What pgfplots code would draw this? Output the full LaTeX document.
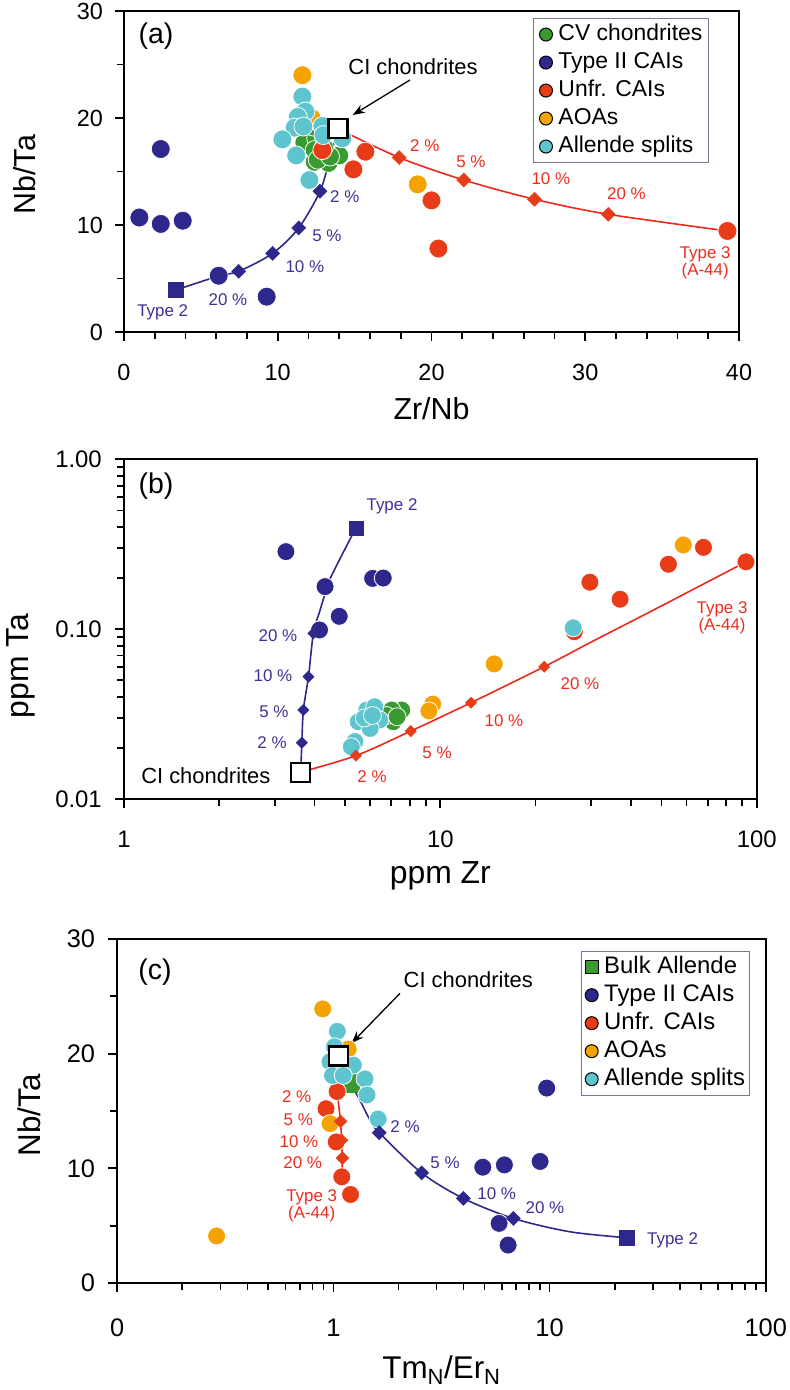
\documentclass[border=0pt]{standalone}
\usepackage{fontspec}
\setmainfont{Liberation Sans}
\usepackage{pgfplots}
\pgfplotsset{compat=1.18}
\usetikzlibrary{arrows.meta}
\definecolor{cvgreen}{RGB}{58,154,50}
\definecolor{caiblue}{RGB}{46,40,140}
\definecolor{unfred}{RGB}{232,60,24}
\definecolor{aoaorange}{RGB}{245,163,0}
\definecolor{splitcyan}{RGB}{94,196,206}
\definecolor{linered}{RGB}{238,40,28}
\definecolor{labred}{RGB}{235,45,30}
\definecolor{labblue}{RGB}{60,50,150}
\definecolor{leggray}{RGB}{120,120,150}
\tikzset{pct/.style={font=\fontsize{17}{17}\selectfont},
  xtl/.style={anchor=center, inner sep=0pt, yshift=-#1},
  ytl/.style={anchor=east, inner sep=0pt, xshift=-#1}}
\pgfplotsset{
  circ/.style={only marks, mark=*, mark options={draw=white, line width=0.8bp, fill=#1}},
  common/.style={scale only axis, clip=false,
    axis line style={line width=2bp},
    every tick/.style={line width=1.8bp, black},
    major tick length=9bp, minor tick length=7bp,
    tick align=outside, tick pos=left,
    xticklabels={,,,,,}, yticklabels={,,,,,},
    label style={inner sep=0pt},
    legend cell align=left,
    legend style={draw=leggray, line width=1bp, anchor=north west,
      nodes={inner sep=0pt, text height=18bp, text depth=6bp},
      row sep=4bp, column sep=6bp, inner ysep=4bp},
  },
  legcirc/.style={only marks, mark=*, mark size=6.5bp, mark options={draw=none, fill=#1}},
}
\begin{document}
\begin{tikzpicture}
\useasboundingbox (0,0) rectangle (790bp,1390bp);
% ---------------- (a) ----------------
\begin{axis}[common, at={(124bp,1058bp)}, anchor=south west,
  width=615bp, height=321bp,
  xmin=0, xmax=40, ymin=0, ymax=30,
  xtick={0,10,20,30,40}, ytick={0,10,20,30},
  minor x tick num=4, minor y tick num=1,
  label style={font=\fontsize{30.5}{30.5}\selectfont},
  xlabel={Zr/Nb}, ylabel={Nb/Ta},
  xlabel style={at={(axis description cs:0.5,-0.274)}, anchor=base},
  ylabel style={at={(axis description cs:-0.1447,0.49)}, anchor=base},
  legend style={at={(axis description cs:0.665,0.978)}, inner xsep=6bp,
    font=\fontsize{23}{28}\selectfont},
]
\addlegendimage{legcirc=cvgreen}\addlegendentry{CV chondrites}
\addlegendimage{legcirc=caiblue}\addlegendentry{Type II CAIs}
\addlegendimage{legcirc=unfred}\addlegendentry{Unfr. CAIs}
\addlegendimage{legcirc=aoaorange}\addlegendentry{AOAs}
\addlegendimage{legcirc=splitcyan}\addlegendentry{Allende splits}
\addplot[circ=cvgreen, mark size=9.5bp, forget plot] coordinates {
(11.73,17.7) (12.5,18.1) (12.4,15.9) (13.3,15.8) (14.0,16.5) (12.4,17.0)
(12.6,16.1) (13.4,16.4) (12.3,19.2) (13.0,17.3)};
\addplot[circ=unfred, mark size=9.5bp, forget plot] coordinates {
(12.9,17.0) (14.92,15.2) (15.7,16.85) (20.0,12.3) (20.45,7.8) (39.25,9.44)};
\addplot[circ=aoaorange, mark size=9.5bp, forget plot] coordinates {
(12.2,20.0) (11.6,24.0) (19.1,13.8)};
\addplot[circ=splitcyan, mark size=9.5bp, forget plot] coordinates {
(14.05,18.6) (14.2,18.1) (11.6,22.0) (11.8,20.6) (11.3,20.1) (11.1,19.1) (11.67,19.2)
(10.3,18.0) (11.2,16.5) (12.06,14.2) (12.9,19.25) (12.97,18.4)};
\addplot[circ=caiblue, mark size=9.5bp, forget plot] coordinates {
(2.39,17.1) (1.0,10.7) (2.39,10.1) (3.82,10.4) (6.16,5.26) (9.28,3.3)};
% mixing lines
\addplot[caiblue, line width=1.6bp, smooth, no marks, forget plot] coordinates {
(3.38,3.93) (6.2,5.25) (7.46,5.67) (9.67,7.35) (11.36,9.72) (12.75,13.15) (13.4,16.3) (13.92,19.0)};
\addplot[linered, line width=1.6bp, smooth, no marks, forget plot] coordinates {
(13.92,19.0) (17.9,16.3) (22.1,14.2) (26.7,12.4) (31.5,11.0) (39.25,9.44)};
\addplot[only marks, mark=square*, mark size=5bp, mark options={rotate=45, fill=caiblue, draw=caiblue}, forget plot] coordinates {
(7.46,5.67) (9.67,7.35) (11.36,9.72) (12.75,13.15)};
\addplot[only marks, mark=square*, mark size=5bp, mark options={rotate=45, fill=unfred, draw=unfred}, forget plot] coordinates {
(17.9,16.3) (22.1,14.2) (26.7,12.4) (31.5,11.0)};
\addplot[only marks, mark=square*, mark size=7.5bp, mark options={fill=caiblue, draw=caiblue}, forget plot] coordinates {(3.38,3.93)};
\addplot[only marks, mark=square*, mark size=9.5bp, mark options={fill=white, draw=black, line width=2.2bp}, forget plot] coordinates {(13.92,19.0)};
% tick labels
\begin{scope}[font=\fontsize{23.5}{23.5}\selectfont]
\node[xtl=40bp] at (axis cs:0,0) {0};
\node[xtl=40bp] at (axis cs:10,0) {10};
\node[xtl=40bp] at (axis cs:20,0) {20};
\node[xtl=40bp] at (axis cs:30,0) {30};
\node[xtl=40bp] at (axis cs:40,0) {40};
\node[ytl=21bp] at (axis cs:0,0) {0};
\node[ytl=21bp] at (axis cs:0,10) {10};
\node[ytl=21bp] at (axis cs:0,20) {20};
\node[ytl=21bp] at (axis cs:0,30) {30};
\end{scope}
% annotations
\node[font=\fontsize{28.6}{28.6}\selectfont] at (axis description cs:0.052,0.922) {(a)};
\node[font=\fontsize{22}{22}\selectfont] at (axis description cs:0.470,0.826) {CI chondrites};
\draw[-{Stealth[length=12bp,width=9bp]}, line width=1.3bp] (axis description cs:0.465,0.785) -- (axis description cs:0.372,0.676);
\node[pct, text=labblue] at (axis description cs:0.359,0.421) {2 \%};
\node[pct, text=labblue] at (axis description cs:0.330,0.299) {5 \%};
\node[pct, text=labblue] at (axis description cs:0.294,0.202) {10 \%};
\node[pct, text=labblue] at (axis description cs:0.169,0.100) {20 \%};
\node[pct, text=labblue] at (axis description cs:0.063,0.062) {Type 2};
\node[pct, text=labred] at (axis description cs:0.489,0.580) {2 \%};
\node[pct, text=labred] at (axis description cs:0.564,0.529) {5 \%};
\node[pct, text=labred] at (axis description cs:0.694,0.477) {10 \%};
\node[pct, text=labred] at (axis description cs:0.817,0.432) {20 \%};
\node[pct, text=labred, align=center] at (axis description cs:0.945,0.215) {Type 3\\(A-44)};
\end{axis}
% ---------------- (b) ----------------
\begin{axis}[common, at={(124bp,591bp)}, anchor=south west,
  width=632.7bp, height=339.7bp,
  xmode=log, ymode=log,
  xmin=1, xmax=100, ymin=0.01, ymax=1,
  xtick={1,10,100}, ytick={0.01,0.1,1},
  minor xtick={2,3,4,5,6,7,8,9,20,30,40,50,60,70,80,90},
  minor ytick={0.02,0.03,0.04,0.05,0.06,0.07,0.08,0.09,0.2,0.3,0.4,0.5,0.6,0.7,0.8,0.9},
  label style={font=\fontsize{32}{32}\selectfont},
  xlabel={ppm Zr}, ylabel={ppm Ta},
  xlabel style={at={(axis description cs:0.5,-0.2473)}, anchor=base},
  ylabel style={at={(axis description cs:-0.1513,0.392)}, anchor=base},
]
\addplot[circ=unfred, mark size=9bp] coordinates {
(26.5,0.0965) (29.7,0.189) (37.0,0.150) (52.6,0.241) (67.9,0.303) (92.5,0.249)};
\addplot[circ=cvgreen, mark size=9bp] coordinates {
(7.55,0.0334) (7.02,0.0334) (7.1,0.0285) (6.76,0.031) (7.3,0.0305)};
\addplot[circ=aoaorange, mark size=9bp] coordinates {
(58.6,0.313) (14.8,0.0624) (9.46,0.0362) (9.2,0.0330)};
\addplot[circ=splitcyan, mark size=9bp] coordinates {
(26.3,0.1018) (5.85,0.0334) (6.2,0.0349) (5.5,0.0285) (6.43,0.0292) (6.0,0.0260)
(5.37,0.0218) (5.23,0.0203) (5.75,0.0300) (6.1,0.0310)};
\addplot[circ=caiblue, mark size=9bp] coordinates {
(3.25,0.286) (4.32,0.178) (6.11,0.199) (6.6,0.200) (4.79,0.119) (4.15,0.0989)};
\addplot[caiblue, line width=1.6bp, smooth, no marks] coordinates {
(3.62,0.0144) (3.65,0.02145) (3.69,0.0334) (3.83,0.0525) (3.97,0.0945) (4.16,0.128) (4.34,0.166) (4.52,0.205) (5.41,0.395)};
\addplot[linered, line width=1.6bp, smooth, no marks] coordinates {
(3.62,0.0144) (5.41,0.0180) (8.06,0.0251) (12.5,0.0369) (21.3,0.0601) (30.3,0.0848) (48.1,0.132) (92.5,0.249)};
\addplot[only marks, mark=square*, mark size=4bp, mark options={rotate=45, fill=caiblue, draw=caiblue}] coordinates {
(3.65,0.02145) (3.69,0.0334) (3.83,0.0525) (3.97,0.0945)};
\addplot[only marks, mark=square*, mark size=4bp, mark options={rotate=45, fill=unfred, draw=unfred}] coordinates {
(5.41,0.0180) (8.06,0.0251) (12.5,0.0369) (21.3,0.0601)};
\addplot[only marks, mark=square*, mark size=7bp, mark options={fill=caiblue, draw=caiblue}] coordinates {(5.41,0.395)};
\addplot[only marks, mark=square*, mark size=9.5bp, mark options={fill=white, draw=black, line width=2.2bp}] coordinates {(3.62,0.0144)};
\begin{scope}[font=\fontsize{24}{24}\selectfont]
\node[xtl=40.5bp] at (axis cs:1,0.01) {1};
\node[xtl=40.5bp] at (axis cs:10,0.01) {10};
\node[xtl=40.5bp] at (axis cs:100,0.01) {100};
\node[ytl=22bp] at (axis cs:1,0.01) {0.01};
\node[ytl=22bp] at (axis cs:1,0.1) {0.10};
\node[ytl=22bp] at (axis cs:1,1) {1.00};
\end{scope}
\node[font=\fontsize{28.6}{28.6}\selectfont] at (axis description cs:0.0506,0.921) {(b)};
\node[pct, text=labblue] at (axis description cs:0.4236,0.8625) {Type 2};
\node[font=\fontsize{22}{22}\selectfont, anchor=east] at (axis description cs:0.237,0.0677) {CI chondrites};
\node[pct, text=labblue] at (axis description cs:0.234,0.165) {2 \%};
\node[pct, text=labblue] at (axis description cs:0.237,0.256) {5 \%};
\node[pct, text=labblue] at (axis description cs:0.2355,0.362) {10 \%};
\node[pct, text=labblue] at (axis description cs:0.2434,0.480) {20 \%};
\node[pct, text=labred] at (axis description cs:0.392,0.0648) {2 \%};
\node[pct, text=labred] at (axis description cs:0.4947,0.1354) {5 \%};
\node[pct, text=labred] at (axis description cs:0.6006,0.2296) {10 \%};
\node[pct, text=labred] at (axis description cs:0.7207,0.3385) {20 \%};
\node[pct, text=labred, align=center] at (axis description cs:0.9452,0.533) {Type 3\\(A-44)};
\end{axis}
% ---------------- (c) ----------------
\begin{axis}[common, at={(117.3bp,107bp)}, anchor=south west,
  width=648.4bp, height=344bp,
  xmode=log,
  xmin=0.1, xmax=100, ymin=0, ymax=30,
  xtick={0.1,1,10,100},
  minor xtick={0.2,0.3,0.4,0.5,0.6,0.7,0.8,0.9,2,3,4,5,6,7,8,9,20,30,40,50,60,70,80,90},
  ytick={0,10,20,30}, minor y tick num=1,
  label style={font=\fontsize{31.5}{31.5}\selectfont},
  xlabel={Tm\textsubscript{N}/Er\textsubscript{N}}, ylabel={Nb/Ta},
  xlabel style={at={(axis description cs:0.5,-0.277)}, anchor=base},
  ylabel style={at={(axis description cs:-0.1192,0.488)}, anchor=base},
  legend style={at={(axis description cs:0.7147,0.966)}, inner xsep=4bp,
    font=\fontsize{24}{28}\selectfont},
]
\addlegendimage{only marks, mark=square*, mark size=6.5bp, mark options={draw=none, fill=cvgreen}}\addlegendentry{Bulk Allende}
\addlegendimage{legcirc=caiblue}\addlegendentry{Type II CAIs}
\addlegendimage{legcirc=unfred}\addlegendentry{Unfr. CAIs}
\addlegendimage{legcirc=aoaorange}\addlegendentry{AOAs}
\addlegendimage{legcirc=splitcyan}\addlegendentry{Allende splits}
\addplot[only marks, mark=square*, mark size=9bp, mark options={fill=cvgreen, draw=cvgreen}, forget plot] coordinates {(1.19,17.4)};
\addplot[circ=unfred, mark size=9bp, forget plot] coordinates {
(1.04,16.7) (0.924,15.2) (1.03,12.3) (1.093,9.26) (1.2,7.72)};
\addplot[circ=aoaorange, mark size=9bp, forget plot] coordinates {
(1.17,20.4) (0.892,23.9) (0.964,13.9) (0.288,4.1)};
\addplot[circ=splitcyan, mark size=9bp, forget plot] coordinates {
(1.042,21.95) (1.01,20.6) (0.964,19.3) (1.236,19.0) (0.99,18.1) (1.40,17.8)
(1.43,16.4) (1.61,14.3) (1.11,18.1) (1.05,19.6)};
\addplot[circ=caiblue, mark size=9bp, forget plot] coordinates {
(9.7,17.0) (4.91,10.1) (6.18,10.3) (9.04,10.6) (5.84,5.2) (6.43,3.31)};
\addplot[caiblue, line width=1.6bp, smooth, no marks, forget plot] coordinates {
(1.054,19.8) (1.09,18.8) (1.304,16.2) (1.477,14.2) (1.63,13.1) (2.56,9.6) (3.99,7.38) (6.8,5.63) (12.4,4.47) (22.7,3.95)};
\addplot[linered, line width=1.6bp, no marks, forget plot] coordinates {
(1.054,19.8) (1.042,16.5) (1.08,14.1) (1.09,12.45) (1.1,10.9) (1.093,9.26)};
\addplot[only marks, mark=square*, mark size=5bp, mark options={rotate=45, fill=caiblue, draw=caiblue}, forget plot] coordinates {
(1.63,13.1) (2.56,9.6) (3.99,7.38) (6.8,5.63)};
\addplot[only marks, mark=square*, mark size=4.5bp, mark options={rotate=45, fill=unfred, draw=unfred}, forget plot] coordinates {
(1.042,16.5) (1.08,14.1) (1.09,12.45) (1.1,10.9)};
\addplot[only marks, mark=square*, mark size=7.5bp, mark options={fill=caiblue, draw=caiblue}, forget plot] coordinates {(22.7,3.95)};
\addplot[only marks, mark=square*, mark size=9.5bp, mark options={fill=white, draw=black, line width=2.2bp}, forget plot] coordinates {(1.054,19.8)};
\begin{scope}[font=\fontsize{25.5}{25.5}\selectfont]
\node[xtl=44.5bp] at (axis cs:0.1,0) {0};
\node[xtl=44.5bp] at (axis cs:1,0) {1};
\node[xtl=44.5bp] at (axis cs:10,0) {10};
\node[xtl=44.5bp] at (axis cs:100,0) {100};
\node[ytl=22bp] at (axis cs:0.1,0) {0};
\node[ytl=22bp] at (axis cs:0.1,10) {10};
\node[ytl=22bp] at (axis cs:0.1,20) {20};
\node[ytl=22bp] at (axis cs:0.1,30) {30};
\end{scope}
\node[font=\fontsize{28.6}{28.6}\selectfont] at (axis description cs:0.0581,0.905) {(c)};
\node[font=\fontsize{22}{22}\selectfont] at (axis description cs:0.5413,0.8808) {CI chondrites};
\draw[-{Stealth[length=12bp,width=9bp]}, line width=1.3bp] (axis description cs:0.436,0.842) -- (axis description cs:0.3615,0.6977);
\node[pct, text=labred] at (axis description cs:0.2767,0.5416) {2 \%};
\node[pct, text=labred] at (axis description cs:0.2792,0.4738) {5 \%};
\node[pct, text=labred] at (axis description cs:0.2802,0.4108) {10 \%};
\node[pct, text=labred] at (axis description cs:0.2859,0.3509) {20 \%};
\node[pct, text=labred, align=center] at (axis description cs:0.2998,0.2238) {Type 3\\(A-44)};
\node[pct, text=labblue] at (axis description cs:0.4437,0.4544) {2 \%};
\node[pct, text=labblue] at (axis description cs:0.5054,0.3509) {5 \%};
\node[pct, text=labblue] at (axis description cs:0.5851,0.2608) {10 \%};
\node[pct, text=labblue] at (axis description cs:0.6596,0.2189) {20 \%};
\node[pct, text=labblue] at (axis description cs:0.8564,0.125) {Type 2};
\end{axis}
\end{tikzpicture}
\end{document}
